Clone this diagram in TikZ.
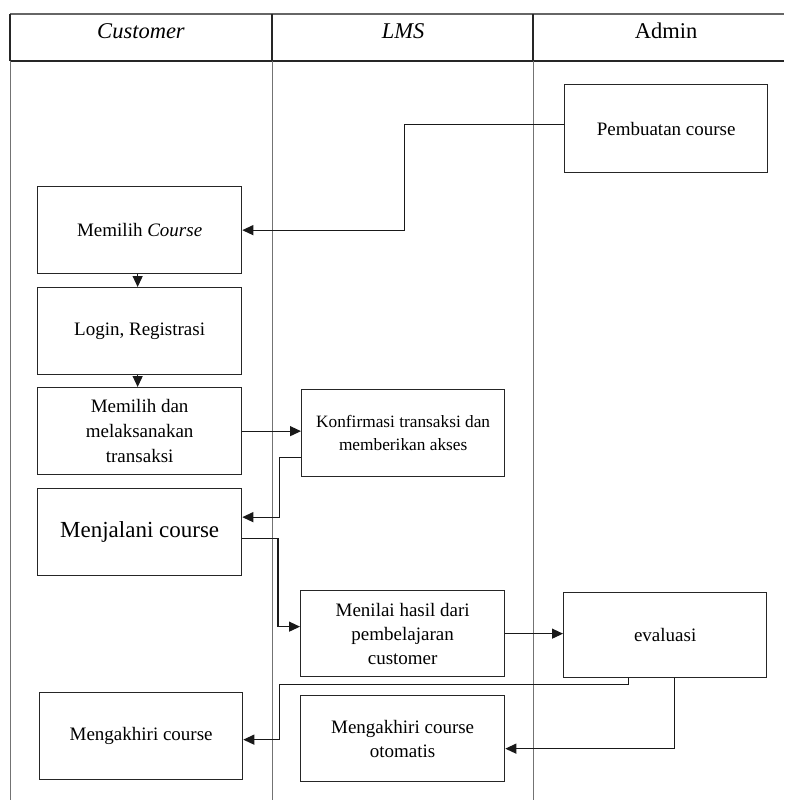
\documentclass[tikz,border=0pt]{standalone}
\usepackage{fontspec}
\setmainfont{Liberation Serif}
\usetikzlibrary{arrows.meta,calc}
\begin{document}
\begin{tikzpicture}[x=1pt,y=-1pt,
 box/.style={draw=black!85, line width=1.3pt, anchor=north west, align=center, inner sep=2pt, font=\fontsize{19}{24}\selectfont},
 conn/.style={line width=1.2pt, draw=black!90, -{Triangle[length=11pt,width=10pt]}},
 lane/.style={draw=black!55, line width=0.9pt},
 hline/.style={draw=black!85, line width=1.4pt},
 hdr/.style={font=\fontsize{22.5}{27}\selectfont}]
\useasboundingbox (0,0) rectangle (784,800);
% swimlane table
\draw[draw=black!60, line width=2.4pt] (10,14) -- (784,14);
\draw[hline] (10,61) -- (784,61);
\draw[hline] (10,14) -- (10,61);
\draw[hline] (272,14) -- (272,61);
\draw[hline] (533,14) -- (533,61);
\draw[lane] (10,61) -- (10,800);
\draw[lane] (272,61) -- (272,800);
\draw[lane] (533,61) -- (533,800);
\node[hdr] (hc) at (141,31) {\itshape Customer};
\node[hdr] (hl) at (403,31) {\itshape LMS};
\node[hdr] (ha) at (666,31) {Admin};
% boxes
\node[box, minimum width=203pt, minimum height=88pt] (pc) at (564,84) {Pembuatan course};
\node[box, minimum width=204pt, minimum height=87pt] (mc) at (37,186) {Memilih \textit{Course}};
\node[box, minimum width=204pt, minimum height=87pt] (lr) at (37,287) {Login, Registrasi};
\node[box, minimum width=204pt, minimum height=87pt, font=\fontsize{19}{25}\selectfont] (mt) at (37,387) {Memilih dan\\melaksanakan\\transaksi};
\node[box, minimum width=204pt, minimum height=87pt, font=\fontsize{23}{27}\selectfont] (mj) at (37,488) {Menjalani course};
\node[box, minimum width=203pt, minimum height=87pt, font=\fontsize{17.3}{23}\selectfont] (kt) at (301,389) {Konfirmasi transaksi dan\\memberikan akses};
\node[box, minimum width=204pt, minimum height=86pt] (mh) at (300,590) {Menilai hasil dari\\pembelajaran\\customer};
\node[box, minimum width=203pt, minimum height=85pt] (ev) at (563,592) {evaluasi};
\node[box, minimum width=204pt, minimum height=86pt] (mco) at (300,695) {Mengakhiri course\\otomatis};
\node[box, minimum width=203pt, minimum height=87pt] (mc2) at (39,692) {Mengakhiri course};
% connectors
\draw[conn] ([yshift=4pt]pc.west) -| ([xshift=162pt]mc.east) -- (mc.east);
\draw[conn] ([xshift=-2pt]mc.south) -- ([xshift=-2pt]lr.north);
\draw[conn] ([xshift=-2pt]lr.south) -- ([xshift=-2pt]mt.north);
\draw[conn] (mt.east) -- (mt.east -| kt.west);
\draw[conn] ([yshift=-24pt]kt.west) -| ([xshift=37pt,yshift=15pt]mj.east) -- ([yshift=15pt]mj.east);
\draw[conn] ([yshift=-6.5pt]mj.east) -| ([xshift=-22pt,yshift=7pt]mh.west) -- ([yshift=7pt]mh.west);
\draw[conn] (mh.east) -- (mh.east -| ev.west);
\draw[conn] ([xshift=-36.5pt]ev.south) -- ++(0,6) -| ([xshift=36pt,yshift=-3.5pt]mc2.east) -- ([yshift=-3.5pt]mc2.east);
\draw[conn] ([xshift=9.5pt]ev.south) |- ([yshift=-10pt]mco.east);
\end{tikzpicture}
\end{document}
